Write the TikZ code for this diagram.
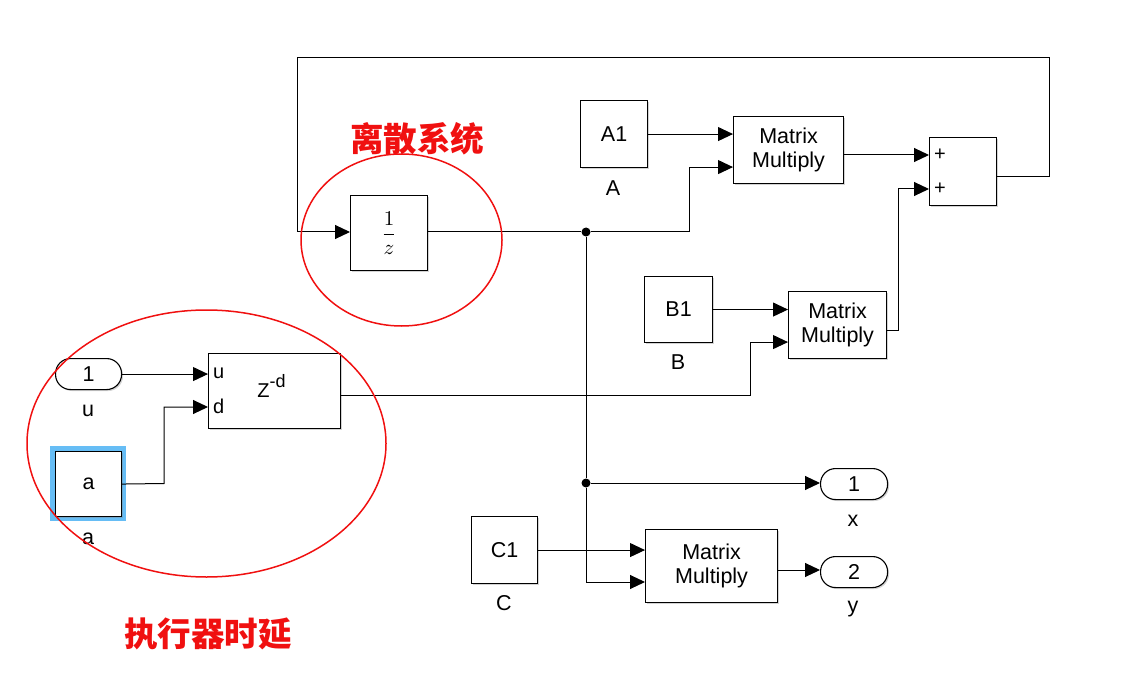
\documentclass[tikz,border=0pt]{standalone}
\usepackage{fontspec}
\setmainfont{Liberation Sans}
\newfontfamily\cjk{Noto Sans CJK SC}
\usetikzlibrary{arrows.meta,calc,shadows}
\definecolor{selblue}{HTML}{66BDF5}
\definecolor{annred}{HTML}{F01010}
\begin{document}
\begin{tikzpicture}[x=1pt,y=-1pt,
  blk/.style={draw,line width=1.1pt,fill=white,anchor=north west,inner sep=0pt,align=center,
    font=\fontsize{21.5}{24}\selectfont,
    drop shadow={shadow xshift=1.5pt,shadow yshift=-1.5pt,opacity=0.35,fill=gray}},
  portblk/.style={blk,rounded corners=15pt},
  wire/.style={line width=1pt},
  sig/.style={wire,-{Triangle[length=15pt,width=14pt]}},
  lbl/.style={font=\fontsize{21.5}{24}\selectfont,inner sep=0pt},
  plbl/.style={font=\fontsize{20}{22}\selectfont,inner sep=0pt,anchor=west},
  ann/.style={draw=annred,line width=1.5pt},
  anntext/.style={text=annred,font=\cjk\bfseries\fontsize{33.5}{36}\selectfont,inner sep=0pt},
  dot/.style={circle,fill=black,inner sep=0pt,minimum size=9pt}
]
\useasboundingbox (0,0) rectangle (1134,676);

% blocks
\node[blk,minimum width=77pt,minimum height=75pt] (intg) at (350,195) {\fontsize{10}{12}\selectfont\scalebox{2.1}{$\displaystyle\frac{1}{z}$}};
\node[blk,minimum width=67pt,minimum height=67pt] (A1) at (580,100) {A1};
\node[blk,minimum width=110pt,minimum height=67pt] (mm1) at (733,116) {Matrix\\Multiply};
\node[blk,minimum width=67pt,minimum height=68pt] (sum) at (929,137) {};
\node[blk,minimum width=68pt,minimum height=66pt] (B1) at (644,276) {B1};
\node[blk,minimum width=98pt,minimum height=67pt] (mm2) at (788,291) {Matrix\\Multiply};
\node[fill=selblue,minimum width=76pt,minimum height=75pt,anchor=north west,inner sep=0pt] (asel) at (50,446) {};
\node[blk,minimum width=66pt,minimum height=65pt] (cona) at (55,451) {a};
\node[portblk,minimum width=66pt,minimum height=31pt] (inu) at (55,358) {1};
\node[blk,minimum width=132pt,minimum height=75pt] (delay) at (208,353) {};
\node[font=\fontsize{20}{22}\selectfont,inner sep=0pt,anchor=base] (dtxt) at (271.5,397) {Z\raisebox{0.5em}{\fontsize{18}{20}\selectfont -d}};
\node[blk,minimum width=66pt,minimum height=67pt] (C1) at (471,516) {C1};
\node[blk,minimum width=132pt,minimum height=73pt] (mm3) at (645,529) {Matrix\\Multiply};
\node[portblk,minimum width=67pt,minimum height=31pt] (outx) at (820,468) {1};
\node[portblk,minimum width=67pt,minimum height=31pt] (outy) at (820,556) {2};

% port labels inside blocks
\node[plbl] (sp1) at (934,155) {+};
\node[plbl] (sp2) at (934,189) {+};
\node[plbl] (du) at (213,373) {u};
\node[plbl] (dd) at (213,406) {d};

% block name labels
\node[lbl] (lA) at (613,188) {A};
\node[lbl] (lB) at (678,362) {B};
\node[lbl] (lC) at (504,603) {C};
\node[lbl] (lu) at (88,411) {u};
\node[lbl] (la) at (88,539) {a};
\node[lbl] (lx) at (853,521) {x};
\node[lbl] (ly) at (853,609) {y};

% port coordinates
\coordinate (intgin) at (350,232);
\coordinate (intgout) at (427,232);
\coordinate (mm1in1) at ($(mm1.north west)!0.25!(mm1.south west)$);
\coordinate (mm1in2) at ($(mm1.north west)!0.75!(mm1.south west)$);
\coordinate (sumin1) at (929,155);
\coordinate (sumin2) at (929,189);
\coordinate (sumout) at (996,177);
\coordinate (mm2in1) at ($(mm2.north west)!0.27!(mm2.south west)$);
\coordinate (mm2in2) at ($(mm2.north west)!0.75!(mm2.south west)$);
\coordinate (mm2out) at (886,330);
\coordinate (delu) at (208,373);
\coordinate (deld) at (208,407);
\coordinate (delout) at (340,395);
\coordinate (mm3in1) at (645,549);
\coordinate (mm3in2) at (645,582);
\coordinate (mm3out) at (777,570);
\coordinate (branch1) at (586,232);
\node[dot] (j1) at (branch1) {};
\node[dot] (j2) at (586,483) {};

% connectors
\draw[sig] (A1.east) -- (mm1.west |- A1.east);
\draw[sig] (j1) -- (689,232) |- (mm1in2);
\draw[sig] (mm1.east |- sumin1) -- (sumin1);
\draw[sig] (mm2out) -- (898,330) |- (sumin2);
\draw[sig] (sumout) -- (1049,177) -- (1049,58) -- (297,58) |- (intgin);
\draw[wire] (intgout) -- (j1);
\draw[wire] (j1) -- (j2);
\draw[sig] (j2) -- (outx.west |- j2);
\draw[sig] (j2) |- (mm3in2);
\draw[sig] (B1.east) -- (mm2.west |- B1.east);
\draw[sig] (delout) -- (750,395) |- (mm2in2);
\draw[sig] (inu.east) -- (delay.west |- inu.east);
\draw[sig] (cona.east) -- (164,483.5) |- (deld);
\draw[sig] (C1.east) -- (mm3.west |- C1.east);
\draw[sig] (mm3out) -- (outy.west |- mm3out);

% annotations
\draw[ann] (401.5,240) ellipse [x radius=100.5, y radius=86];
\draw[ann] (206.5,443.5) ellipse [x radius=179.5, y radius=133.5];
\node[anntext] (t1) at (417,139) {离散系统};
\node[anntext] (t2) at (208,634) {执行器时延};
\end{tikzpicture}
\end{document}
